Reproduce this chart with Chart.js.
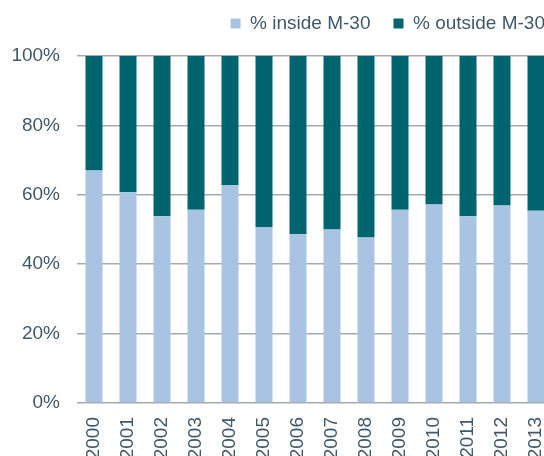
<!DOCTYPE html>
<html>
<head>
<meta charset="utf-8">
<script src="https://cdn.jsdelivr.net/npm/chart.js@4"></script>
<style>
    html, body { margin: 0; padding: 0; overflow: hidden; background: #fff; }
    #wrap { position: relative; width: 553px; height: 456px; }
</style>
</head>
<body>
<div id="wrap"><canvas id="m30Chart"></canvas></div>
<script>
// Data
const years = ['2000', '2001', '2002', '2003', '2004', '2005', '2006', '2007', '2008', '2009', '2010', '2011', '2012', '2013'];
const insideM30 = [67.0, 60.7, 53.8, 55.7, 62.8, 50.7, 48.6, 50.0, 47.7, 55.7, 57.2, 53.8, 56.9, 55.4];
const outsideM30 = [33.0, 39.3, 46.2, 44.3, 37.2, 49.3, 51.4, 50.0, 52.3, 44.3, 42.8, 46.2, 43.1, 44.6];
const yTicks = [0, 20, 40, 60, 80, 100];

const textColor = '#41596b';
const font = { size: 19, family: "'Liberation Sans', Arial, sans-serif" };

// tweak legend box: plot area starts lower, legend sits higher and further right
const legendSpacing = {
    id: 'legendSpacing',
    beforeInit(chart) {
        const origFit = chart.legend.fit;
        chart.legend.fit = function () {
            origFit.bind(chart.legend)();
            this.height += 2;
        };
    },
    afterLayout(chart) {
        chart.legend.right += 15;
        chart.legend.top -= 11;
    }
};

new Chart(document.getElementById('m30Chart').getContext('2d'), {
    type: 'bar',
    data: {
        labels: years,
        datasets: [
            { label: '% inside M-30', data: insideM30, backgroundColor: '#a9c4e3' },
            { label: '% outside M-30', data: outsideM30, backgroundColor: '#00646f' }
        ]
    },
    options: {
        responsive: true,
        maintainAspectRatio: false,
        animation: false,
        layout: { padding: { top: 2, right: 0, left: 0, bottom: 0 } },
        datasets: { bar: { barPercentage: 0.5, categoryPercentage: 1.0 } },
        plugins: {
            legend: {
                position: 'top',
                align: 'end',
                labels: { boxWidth: 10, boxHeight: 10, padding: 23, color: textColor, font: font }
            },
            tooltip: { enabled: false }
        },
        scales: {
            x: {
                stacked: true,
                grid: { display: false },
                border: { display: false },
                ticks: { color: textColor, font: font, minRotation: 90, maxRotation: 90, padding: 6 },
                afterFit(scale) {
                    scale.height = 53;
                    scale.paddingLeft = 0;
                    scale.paddingRight = 0;
                }
            },
            y: {
                stacked: true,
                min: 0,
                max: 100,
                afterBuildTicks(scale) { scale.ticks = yTicks.map(v => ({ value: v })); },
                grid: { color: '#a5a9ae', lineWidth: 1.5, drawTicks: false },
                border: { display: false },
                ticks: { color: textColor, font: font, padding: 17, callback: v => v + '%' },
                afterFit(scale) { scale.width = 77; }
            }
        }
    },
    plugins: [legendSpacing]
});
</script>
</body>
</html>
